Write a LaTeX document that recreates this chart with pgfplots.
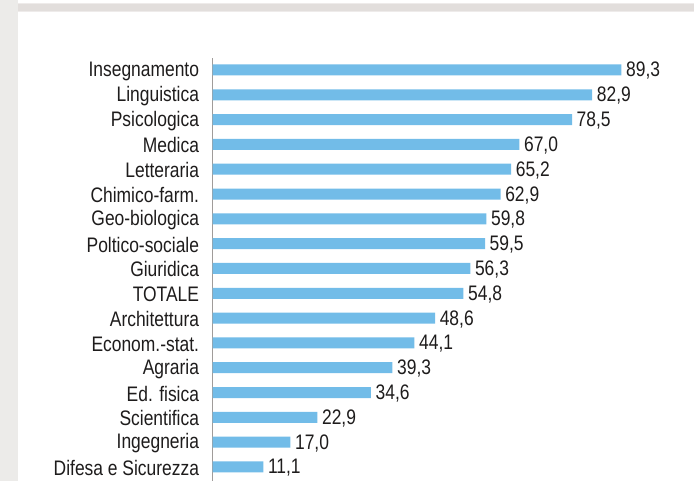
\documentclass[border=0pt]{standalone}
\usepackage{pgfplots}
\pgfplotsset{compat=1.18}
\usepackage{fontspec}
\setmainfont{Liberation Sans}[FakeStretch=0.83]
\definecolor{barblue}{RGB}{114,188,232}
\definecolor{leftgray}{RGB}{236,235,233}
\definecolor{topgray}{RGB}{226,222,220}
\definecolor{axgray}{RGB}{160,156,154}
\definecolor{txt}{RGB}{30,28,28}
\begin{document}
\begin{tikzpicture}[x=1pt,y=1pt]
\useasboundingbox (0,0) rectangle (694,481);
\clip (0,0) rectangle (694,481);
\fill[white] (0,0) rectangle (694,481);
\fill[leftgray] (0,0) rectangle (18.3,481);
\fill[topgray!60] (18.3,469) rectangle (694,477.5);
\fill[topgray] (18.3,470) rectangle (694,476.7);
\begin{axis}[
  at={(212.5pt,-0.886pt)}, anchor=south west,
  scale only axis, width=458pt, height=424.3pt,
  xmin=0, xmax=100, ymin=-0.6, ymax=16.5,
  xbar, bar width=11pt,
  hide x axis,
  axis y line*=left,
  axis line style={axgray, line width=0.9pt, -},
  ytick={0,...,16},
  yticklabels={Difesa e Sicurezza,Ingegneria,Scientifica,Ed. fisica,Agraria,Econom.-stat.,Architettura,TOTALE,Giuridica,Poltico-sociale,Geo-biologica,Chimico-farm.,Letteraria,Medica,Psicologica,Linguistica,Insegnamento},
  ytick style={draw=none},
  yticklabel style={font=\fontsize{21}{22}\selectfont, text=txt, inner sep=0pt, xshift=-9pt, yshift=-1pt},
  nodes near coords,
  nodes near coords style={font=\fontsize{21}{22}\selectfont, text=txt, inner sep=0pt, xshift=4.5pt, anchor=west, yshift=-1pt},
  /pgf/number format/.cd, fixed, fixed zerofill, precision=1, use comma, assume math mode=true,
]
\addplot[fill=barblue, draw=none] coordinates {
(11.1,0) (17.0,1) (22.9,2) (34.6,3) (39.3,4) (44.1,5) (48.6,6) (54.8,7) (56.3,8) (59.5,9) (59.8,10) (62.9,11) (65.2,12) (67.0,13) (78.5,14) (82.9,15) (89.3,16)
};
\end{axis}
\end{tikzpicture}
\end{document}
